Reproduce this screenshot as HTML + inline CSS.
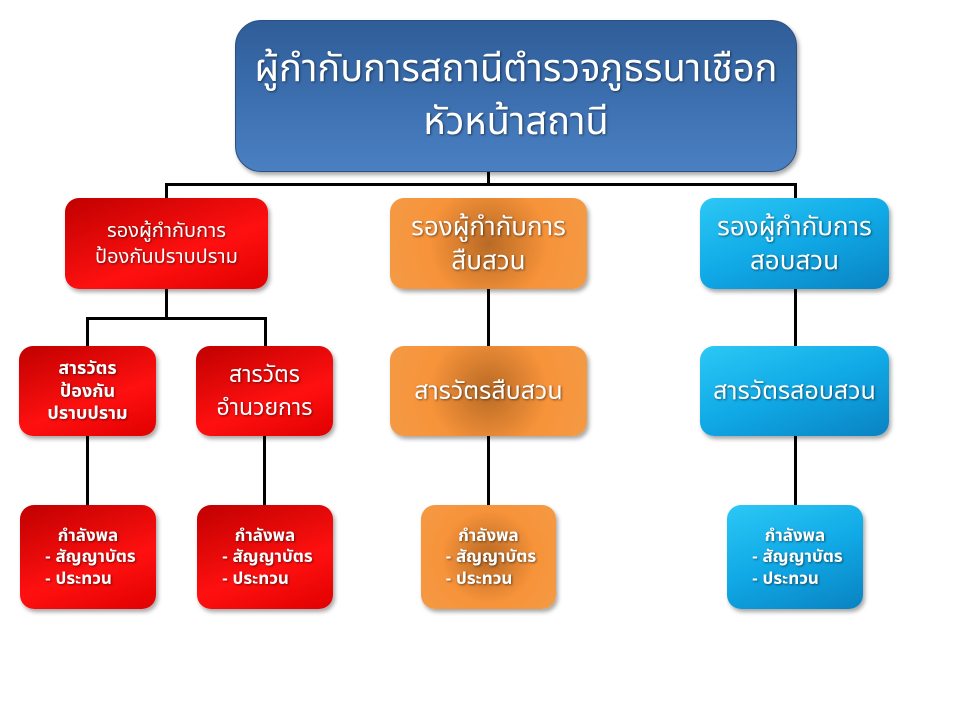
<!DOCTYPE html>
<html><head><meta charset="utf-8"><style>
body{margin:0;width:960px;height:720px;background:#fff;position:relative;overflow:hidden;font-family:"Liberation Sans","Noto Sans Thai","Loma","Garuda",sans-serif}
.b{position:absolute;box-sizing:border-box;display:flex;align-items:center;justify-content:center;text-align:center;color:#fff;border-radius:14px;box-shadow:2px 3px 4px rgba(0,0,0,.35);text-shadow:1px 1px 2px rgba(0,0,0,.5);line-height:1.3}
.r{background:linear-gradient(160deg,#c00000,#ff1010 60%,#e00000)}
.o{background:radial-gradient(circle at 50% 50%,#b86a25,#f7933a 55%,#f49a45)}
.c{background:linear-gradient(160deg,#2cc8f5,#10a9e6 50%,#0a82c2)}
.l{position:absolute;background:#000}
.s{font-size:17px;font-weight:bold;line-height:1.25}
</style></head><body>
<div class="b" style="left:235px;top:20px;width:562px;height:152px;border-radius:26px;background:linear-gradient(180deg,#2f5d98,#3e72b3 60%,#4a80c2);font-size:38px;line-height:1.4;border:1px solid #2a4f80">ผู้กำกับการสถานีตำรวจภูธรนาเชือก<br>หัวหน้าสถานี</div>

<div class="l" style="left:487px;top:172px;width:3px;height:14px"></div>
<div class="l" style="left:165px;top:183px;width:632px;height:3px"></div>
<div class="l" style="left:165px;top:183px;width:3px;height:16px"></div>
<div class="l" style="left:794px;top:183px;width:3px;height:16px"></div>

<div class="b r" style="left:65px;top:198px;width:203px;height:91px;font-size:20px">รองผู้กำกับการ<br>ป้องกันปราบปราม</div>
<div class="b o" style="left:390px;top:198px;width:197px;height:91px;font-size:26px">รองผู้กำกับการ<br>สืบสวน</div>
<div class="b c" style="left:700px;top:198px;width:189px;height:91px;font-size:26px">รองผู้กำกับการ<br>สอบสวน</div>

<div class="l" style="left:165px;top:289px;width:3px;height:30px"></div>
<div class="l" style="left:86px;top:317px;width:181px;height:3px"></div>
<div class="l" style="left:86px;top:317px;width:3px;height:30px"></div>
<div class="l" style="left:264px;top:317px;width:3px;height:30px"></div>
<div class="l" style="left:487px;top:289px;width:3px;height:58px"></div>
<div class="l" style="left:794px;top:289px;width:3px;height:58px"></div>

<div class="b r s" style="left:19px;top:346px;width:137px;height:90px;font-size:18px">สารวัตร<br>ป้องกัน<br>ปราบปราม</div>
<div class="b r" style="left:196px;top:346px;width:137px;height:90px;font-size:23px;line-height:1.45">สารวัตร<br>อำนวยการ</div>
<div class="b o" style="left:390px;top:346px;width:197px;height:90px;font-size:25px">สารวัตรสืบสวน</div>
<div class="b c" style="left:700px;top:346px;width:189px;height:90px;font-size:25px">สารวัตรสอบสวน</div>

<div class="l" style="left:86px;top:436px;width:3px;height:70px"></div>
<div class="l" style="left:263px;top:436px;width:3px;height:70px"></div>
<div class="l" style="left:487px;top:436px;width:3px;height:70px"></div>
<div class="l" style="left:794px;top:436px;width:3px;height:70px"></div>

<div class="b r s" style="left:20px;top:505px;width:136px;height:104px">กำลังพล<br>&nbsp;- สัญญาบัตร<br>- ประทวน&nbsp;&nbsp;&nbsp;&nbsp;</div>
<div class="b r s" style="left:197px;top:505px;width:136px;height:104px">กำลังพล<br>&nbsp;- สัญญาบัตร<br>- ประทวน&nbsp;&nbsp;&nbsp;&nbsp;</div>
<div class="b o s" style="left:421px;top:505px;width:135px;height:104px">กำลังพล<br>&nbsp;- สัญญาบัตร<br>- ประทวน&nbsp;&nbsp;&nbsp;&nbsp;</div>
<div class="b c s" style="left:727px;top:505px;width:136px;height:104px">กำลังพล<br>&nbsp;- สัญญาบัตร<br>- ประทวน&nbsp;&nbsp;&nbsp;&nbsp;</div>
</body></html>
